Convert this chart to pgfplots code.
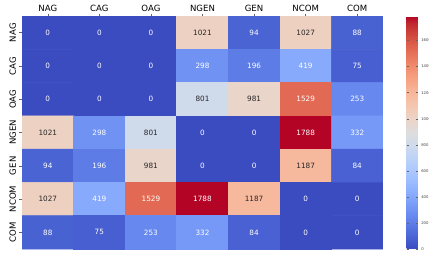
\documentclass[border=0pt]{standalone}
\usepackage{fontspec}
\setmainfont{DejaVu Sans}
\usepackage{pgfplots}
\usepackage{pgfplotstable}
\pgfplotsset{compat=1.18}
\definecolor{darktext}{RGB}{38,38,38}
\pgfplotstableread{
x y v
0 0 0
1 0 0
2 0 0
3 0 1021
4 0 94
5 0 1027
6 0 88
0 1 0
1 1 0
2 1 0
3 1 298
4 1 196
5 1 419
6 1 75
0 2 0
1 2 0
2 2 0
3 2 801
4 2 981
5 2 1529
6 2 253
0 3 1021
1 3 298
2 3 801
3 3 0
4 3 0
5 3 1788
6 3 332
0 4 94
1 4 196
2 4 981
3 4 0
4 4 0
5 4 1187
6 4 84
0 5 1027
1 5 419
2 5 1529
3 5 1788
4 5 1187
5 5 0
6 5 0
0 6 88
1 6 75
2 6 253
3 6 332
4 6 84
5 6 0
6 6 0
}\datatable
\begin{document}
\begin{tikzpicture}
\begin{axis}[
  name=h,
  scale only axis,
  width=361bp, height=233bp,
  xmin=-0.5, xmax=6.5, ymin=-0.5, ymax=6.5,
  y dir=reverse,
  enlargelimits=false,
  axis line style={draw=none},
  xtick={0,...,6}, ytick={0,...,6},
  xticklabels={NAG,CAG,OAG,NGEN,GEN,NCOM,COM},
  yticklabels={NAG,CAG,OAG,NGEN,GEN,NCOM,COM},
  xtick pos=upper, xticklabel pos=upper,
  ytick pos=left,
  tick align=outside,
  major tick length=2.5bp,
  tick style={black!60, line width=0.4pt},
  xticklabel style={font=\fontsize{8.6}{10}\selectfont, yshift=-1.5bp},
  yticklabel style={font=\fontsize{8.6}{10}\selectfont, rotate=90, anchor=south},
  /pgf/number format/assume math mode=true,
  /pgf/number format/1000 sep={},
  colormap={coolwarm}{
    rgb255=(59,76,192) rgb255=(68,90,204) rgb255=(77,104,215) rgb255=(87,117,225)
    rgb255=(98,130,234) rgb255=(108,142,241) rgb255=(119,154,247) rgb255=(130,165,251)
    rgb255=(141,176,254) rgb255=(152,185,255) rgb255=(163,194,255) rgb255=(174,201,253)
    rgb255=(184,208,249) rgb255=(194,213,244) rgb255=(204,217,238) rgb255=(213,219,230)
    rgb255=(221,221,221) rgb255=(229,216,209) rgb255=(236,211,197) rgb255=(241,204,185)
    rgb255=(245,196,173) rgb255=(247,187,160) rgb255=(247,177,148) rgb255=(247,166,135)
    rgb255=(244,154,123) rgb255=(241,141,111) rgb255=(236,127,99) rgb255=(229,112,88)
    rgb255=(222,96,77) rgb255=(213,80,66) rgb255=(203,62,56) rgb255=(192,40,47)
    rgb255=(180,4,38)},
  colorbar right,
  colorbar style={
    at={(parent axis.north east)}, anchor=north west, xshift=15bp,
    width=11.3bp,
    ytick={0,200,...,1600},
    axis line style={draw=none},
    major tick length=2bp,
    tick style={black!60, line width=0.3pt},
    yticklabel style={font=\fontsize{3.8}{4.5}\selectfont, text=black!75},
    /pgf/number format/assume math mode=true,
    /pgf/number format/1000 sep={},
  },
]
\addplot[matrix plot, mesh/cols=7, point meta=explicit, line width=0.6pt] table[x=x, y=y, meta=v] {\datatable};
\addplot[only marks, mark=none, point meta=explicit symbolic,
  nodes near coords, nodes near coords align=center,
  nodes near coords style={anchor=center, font=\fontsize{7.3}{9}\selectfont, text=white},
  restrict expr to domain={\thisrow{v}}{-1:700}] table[x=x, y=y, meta=v] {\datatable};
\addplot[only marks, mark=none, point meta=explicit symbolic,
  nodes near coords, nodes near coords align=center,
  nodes near coords style={anchor=center, font=\fontsize{7.3}{9}\selectfont, text=white},
  restrict expr to domain={\thisrow{v}}{1300:2000}] table[x=x, y=y, meta=v] {\datatable};
\addplot[only marks, mark=none, point meta=explicit symbolic,
  nodes near coords, nodes near coords align=center,
  nodes near coords style={anchor=center, font=\fontsize{7.3}{9}\selectfont, text=darktext},
  restrict expr to domain={\thisrow{v}}{700:1300}] table[x=x, y=y, meta=v] {\datatable};
\end{axis}
\pgfresetboundingbox
\useasboundingbox ([shift={(-22bp,-6bp)}]h.south west) rectangle ([shift={(407bp,249bp)}]h.south west);
\end{tikzpicture}
\end{document}
